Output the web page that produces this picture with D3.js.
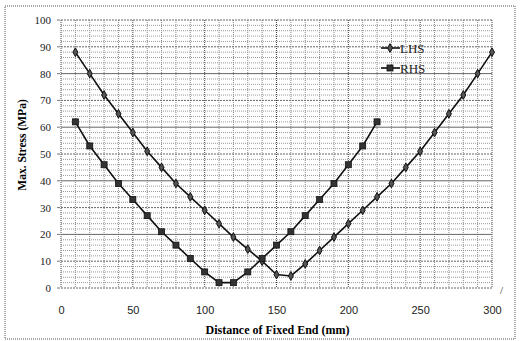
<!DOCTYPE html>
<html><head><meta charset="utf-8">
<script src="https://cdn.jsdelivr.net/npm/d3@7/dist/d3.min.js"></script>
<style>body{margin:0;background:#fff}svg{display:block}</style>
</head><body><svg id="c" width="523" height="341"></svg>
<script>
const lhsX = [10,20,30,40,50,60,70,80,90,100,110,120,130,140,150,160,170,180,190,200,210,220,230,240,250,260,270,280,290,300];
const lhsY = [88,80,72,65,58,51,45,39,34,29,24,19,14.5,10,5,4.5,9,14,19,24,29,34,39,45,51,58,65,72,80,88];
const rhsX = [10,20,30,40,50,60,70,80,90,100,110,120,130,140,150,160,170,180,190,200,210,220];
const rhsY = [62,53,46,39,33,27,21,16,11,6,2,2,6,11,16,21,27,33,39,46,53,62];
const xTicks = [0,50,100,150,200,250,300];
const yTicks = [0,10,20,30,40,50,60,70,80,90,100];
const seriesNames = ["LHS","RHS"];

const svg = d3.select("#c");
const L=61, R=492, T=20, B=288;
const x = d3.scaleLinear().domain([0,300]).range([L,R]);
const y = d3.scaleLinear().domain([0,100]).range([B,T]);

// outer border
svg.append("rect").attr("x",5).attr("y",6).attr("width",510).attr("height",333)
  .attr("fill","none").attr("stroke","#555").attr("stroke-width",1).attr("stroke-dasharray","1,1");

// minor grid
const g = svg.append("g");
d3.range(0,301,10).forEach(v=>{
  g.append("line").attr("x1",x(v)).attr("x2",x(v)).attr("y1",T).attr("y2",B)
   .attr("stroke", v%50===0? "#444":"#888").attr("stroke-width",1).attr("stroke-dasharray","1,1");
});
d3.range(0,101,2).forEach(v=>{
  if(v%10===0) return;
  g.append("line").attr("x1",L).attr("x2",R).attr("y1",y(v)).attr("y2",y(v))
   .attr("stroke","#999").attr("stroke-width",1).attr("stroke-dasharray","1,1");
});
yTicks.forEach(v=>{
  g.append("line").attr("x1",L).attr("x2",R).attr("y1",y(v)).attr("y2",y(v))
   .attr("stroke","#666").attr("stroke-width",1).attr("stroke-dasharray", (v%20===0 && v>0 && v<100)? null : "2,1");
  g.append("line").attr("x1",L-4).attr("x2",L-1).attr("y1",y(v)).attr("y2",y(v)).attr("stroke","#777");
});

// axes
const xa = svg.append("g").attr("transform",`translate(0,${B+22})`)
  .call(d3.axisBottom(x).tickValues(xTicks).tickSize(0).tickPadding(0));
xa.select(".domain").remove();
xa.selectAll("text").attr("font-family","Liberation Sans, Arial").attr("font-size",11).attr("fill","#222");
const ya = svg.append("g").attr("transform",`translate(${L-10},0)`)
  .call(d3.axisLeft(y).tickValues(yTicks).tickSize(0).tickPadding(0));
ya.select(".domain").remove();
ya.selectAll("text").attr("font-family","Liberation Serif, Times New Roman").attr("font-size",11).attr("fill","#222");
svg.selectAll(".tick text").attr("dy","0.32em");

// axis titles
svg.append("text").attr("x",(L+R)/2+1).attr("y",334).attr("text-anchor","middle")
  .attr("font-family","Liberation Serif, Times New Roman").attr("font-weight","bold").attr("font-size",12)
  .text("Distance of Fixed End (mm)");
svg.append("text").attr("transform","translate(26,145) rotate(-90)").attr("text-anchor","middle")
  .attr("font-family","Liberation Serif, Times New Roman").attr("font-weight","bold").attr("font-size",11.5)
  .text("Max.  Stress (MPa)");

// lines
const line = d3.line().x(d=>x(d[0])).y(d=>y(d[1]));
const lhs = lhsX.map((v,i)=>[v,lhsY[i]]);
const rhs = rhsX.map((v,i)=>[v,rhsY[i]]);
svg.append("path").datum(lhs).attr("d",line).attr("fill","none").attr("stroke","#111").attr("stroke-width",1.6);
svg.append("path").datum(rhs).attr("d",line).attr("fill","none").attr("stroke","#111").attr("stroke-width",1.6);

// markers
const starSym = d3.symbol().type(d3.symbolDiamond).size(22);
svg.append("g").selectAll("path").data(lhs).join("path")
  .attr("transform",d=>`translate(${x(d[0])},${y(d[1])})`).attr("d",starSym)
  .attr("fill","#555").attr("stroke","#111").attr("stroke-width",1);
svg.append("g").selectAll("rect").data(rhs).join("rect")
  .attr("x",d=>x(d[0])-3).attr("y",d=>y(d[1])-3).attr("width",6).attr("height",6)
  .attr("fill","#333").attr("stroke","#111").attr("stroke-width",0.8);

// legend
const lg = svg.append("g");
[[48,0],[68,1]].forEach(([ly,i])=>{
  lg.append("line").attr("x1",381).attr("x2",400).attr("y1",ly).attr("y2",ly).attr("stroke","#111").attr("stroke-width",1.6);
  if(i===0) lg.append("path").attr("transform",`translate(390,${ly})`).attr("d",starSym).attr("fill","#555").attr("stroke","#111");
  else lg.append("rect").attr("x",387).attr("y",ly-3).attr("width",6).attr("height",6).attr("fill","#333").attr("stroke","#111").attr("stroke-width",0.8);
  lg.append("text").attr("x",400).attr("y",ly+4.5).attr("font-family","Liberation Serif, Times New Roman")
    .attr("font-size",13).attr("fill","#222").text(seriesNames[i]);
});

// scan mark
svg.append("text").attr("x",500).attr("y",294).attr("font-family","Liberation Serif").attr("font-size",11).attr("fill","#333").text("/");
</script></body></html>
